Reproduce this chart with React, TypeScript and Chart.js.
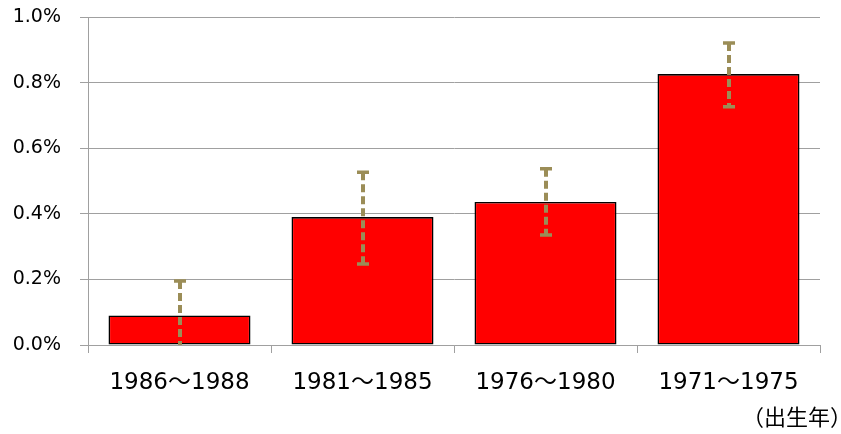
import React, { useEffect, useRef } from "react";
import { Chart, registerables } from "chart.js";

Chart.register(...registerables);

const categories = ["1986～1988", "1981～1985", "1976～1980", "1971～1975"];
const values = [0.09, 0.39, 0.436, 0.826];
const errorUpper = [0.195, 0.527, 0.537, 0.921];
const errorLower = [-0.015, 0.247, 0.335, 0.726];
const yTicks = [0, 0.2, 0.4, 0.6, 0.8, 1.0];
const xTitle = "（出生年）";

const FONT = "'DejaVu Sans', 'Noto Sans CJK JP', sans-serif";
const CJK = "'Noto Sans CJK JP', sans-serif";

const errorBarPlugin = {
  id: "errorBars",
  afterDatasetsDraw(chart: any) {
    const ctx = chart.ctx;
    const x = chart.scales.x;
    const y = chart.scales.y;
    const area = chart.chartArea;
    ctx.save();
    ctx.beginPath();
    ctx.rect(area.left, area.top, area.right - area.left, area.bottom - area.top);
    ctx.clip();
    ctx.strokeStyle = "#9B8D57";
    categories.forEach((_, i) => {
      const cx = Math.round(x.getPixelForValue(i));
      const yt = y.getPixelForValue(errorUpper[i]);
      const yb = y.getPixelForValue(errorLower[i]);
      ctx.lineWidth = 4;
      ctx.setLineDash([8, 4]);
      ctx.beginPath();
      ctx.moveTo(cx, yt);
      ctx.lineTo(cx, yb);
      ctx.stroke();
      ctx.setLineDash([]);
      ctx.lineWidth = 3.5;
      ctx.beginPath();
      ctx.moveTo(cx - 6, yt);
      ctx.lineTo(cx + 6, yt);
      ctx.moveTo(cx - 6, yb);
      ctx.lineTo(cx + 6, yb);
      ctx.stroke();
    });
    ctx.restore();
  },
};

const footPlugin = {
  id: "footTitle",
  afterDraw(chart: any) {
    const ctx = chart.ctx;
    ctx.save();
    ctx.font = `22px ${CJK}`;
    ctx.fillStyle = "#000";
    ctx.textAlign = "right";
    ctx.textBaseline = "middle";
    ctx.fillText(xTitle, 852, 417);
    ctx.restore();
  },
};

export default function App() {
  const ref = useRef<HTMLCanvasElement | null>(null);
  useEffect(() => {
    document.body.style.margin = "0";
    const chart = new Chart(ref.current as HTMLCanvasElement, {
      type: "bar",
      data: {
        labels: categories,
        datasets: [
          {
            data: values,
            backgroundColor: "#FF0000",
            borderColor: "#000000",
            borderWidth: 1.6,
            borderSkipped: false,
            barPercentage: 0.776,
            categoryPercentage: 1,
          },
        ],
      },
      options: {
        animation: false,
        responsive: false,
        maintainAspectRatio: false,
        layout: { padding: { top: 17, right: 21, left: 0, bottom: 0 } },
        plugins: {
          legend: { display: false },
          tooltip: { enabled: false },
        },
        scales: {
          x: {
            grid: {
              offset: true,
              drawOnChartArea: false,
              drawTicks: true,
              tickLength: 8,
              color: "#A0A0A0",
            },
            border: { color: "#A0A0A0" },
            ticks: {
              color: "#000",
              font: { family: FONT, size: 23 },
              padding: 16,
            },
            afterFit(scale: any) {
              scale.height = 89;
              scale.paddingLeft = 0;
              scale.paddingRight = 0;
            },
          },
          y: {
            min: 0,
            max: 1.0,
            afterBuildTicks(scale: any) {
              scale.ticks = yTicks.map((v) => ({ value: v }));
            },
            grid: {
              color: "#A0A0A0",
              tickLength: 8,
            },
            border: { color: "#A0A0A0" },
            ticks: {
              color: "#000",
              font: { family: FONT, size: 19 },
              padding: 19,
              callback: (v: any) => Number(v).toFixed(1) + "%",
            },
            afterFit(scale: any) {
              scale.width = 88;
              scale.paddingTop = 0;
              scale.paddingBottom = 0;
            },
          },
        },
      },
      plugins: [errorBarPlugin, footPlugin],
    });
    return () => chart.destroy();
  }, []);
  return (
    <div style={{ position: "absolute", left: 0, top: 0, width: 841, height: 434 }}>
      <canvas ref={ref} width={841} height={434} style={{ width: 841, height: 434 }} />
    </div>
  );
}
